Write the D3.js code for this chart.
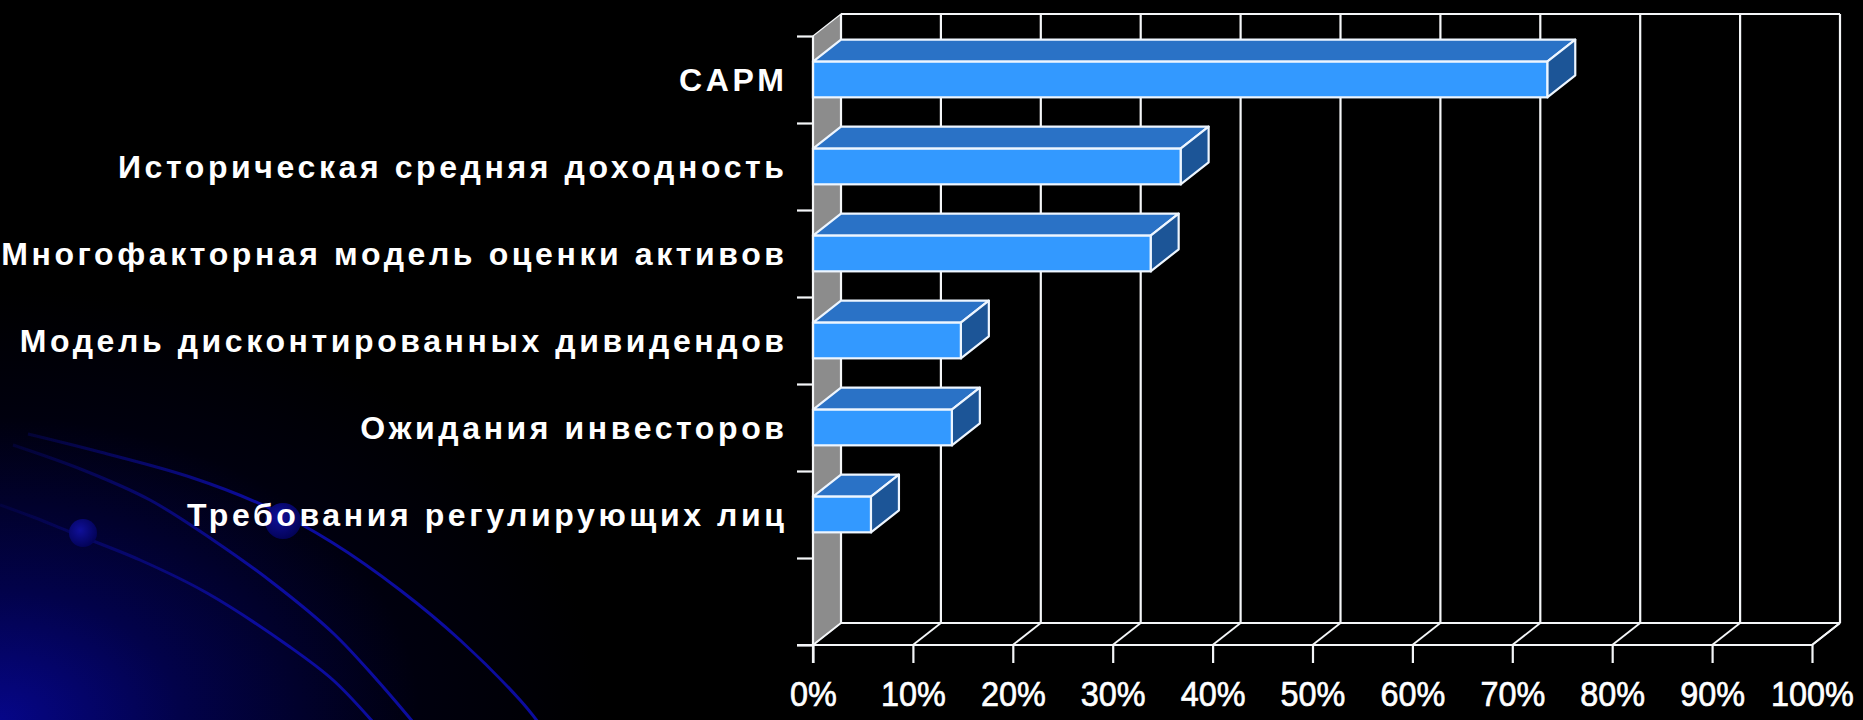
<!DOCTYPE html>
<html>
<head>
<meta charset="utf-8">
<script src="https://cdn.jsdelivr.net/npm/d3@7"></script>
<style>
  html, body { margin: 0; padding: 0; background: #000; }
  svg { display: block; }
</style>
</head>
<body>
<svg id="chart" width="1863" height="720"></svg>
<script>
// Cost-of-equity methods and the share of respondents using each
const categories = [
  "CAPM",
  "Историческая средняя доходность",
  "Многофакторная модель оценки активов",
  "Модель дисконтированных дивидендов",
  "Ожидания инвесторов",
  "Требования регулирующих лиц"
];
const shares = [73.5, 36.8, 33.8, 14.8, 13.9, 5.8];
const xTicks = [0, 10, 20, 30, 40, 50, 60, 70, 80, 90, 100];
const slotCount = 7; // six rows plus an empty row at the bottom

const svg = d3.select("#chart");
const W = 1863, H = 720;

// ---------- slide background ----------
const defs = svg.append("defs");
const bg = defs.append("radialGradient").attr("id", "bgGlow")
  .attr("gradientUnits", "userSpaceOnUse")
  .attr("cx", 0).attr("cy", H).attr("r", 600)
  .attr("gradientTransform", `translate(0,${H}) scale(1,0.72) translate(0,${-H})`);
bg.append("stop").attr("offset", 0).attr("stop-color", "#060688");
bg.append("stop").attr("offset", 0.3).attr("stop-color", "#02024a");
bg.append("stop").attr("offset", 0.7).attr("stop-color", "#00000e");
bg.append("stop").attr("offset", 1).attr("stop-color", "#000000");

svg.append("rect").attr("width", W).attr("height", H).attr("fill", "#000");
svg.append("rect").attr("width", W).attr("height", H).attr("fill", "url(#bgGlow)");

const arcFade = defs.append("linearGradient").attr("id", "arcFade")
  .attr("gradientUnits", "userSpaceOnUse")
  .attr("x1", 0).attr("y1", 0).attr("x2", 260).attr("y2", 0);
arcFade.append("stop").attr("offset", 0).attr("stop-color", "#0a0a8a").attr("stop-opacity", 0.2);
arcFade.append("stop").attr("offset", 1).attr("stop-color", "#0c0c9e").attr("stop-opacity", 1);

const orbitPaths = [
  [[28, 434], [100, 452], [190, 477], [267, 507], [333, 543], [400, 590], [460, 640], [520, 700], [538, 722]],
  [[13, 445], [83, 470], [150, 500], [213, 540], [273, 583], [333, 633], [377, 680], [413, 722]],
  [[0, 505], [33, 517], [70, 532], [140, 560], [207, 593], [290, 647], [333, 680], [373, 722]]
];
const orbitLine = d3.line().curve(d3.curveCatmullRom.alpha(0.5));
svg.append("g").selectAll("path").data(orbitPaths).join("path")
  .attr("d", orbitLine)
  .attr("fill", "none")
  .attr("stroke", "url(#arcFade)")
  .attr("stroke-width", 3);

const planet = defs.append("radialGradient").attr("id", "planet")
  .attr("cx", 0.4).attr("cy", 0.4).attr("r", 0.6);
planet.append("stop").attr("offset", 0).attr("stop-color", "#10109a");
planet.append("stop").attr("offset", 1).attr("stop-color", "#03035a");
svg.append("g").selectAll("circle").data([[83, 533, 14], [283, 521, 18]]).join("circle")
  .attr("cx", d => d[0]).attr("cy", d => d[1]).attr("r", d => d[2])
  .attr("fill", "url(#planet)");

// ---------- 3D chart frame ----------
const depthX = 28, depthY = 22;          // oblique offset of the back plane
const frontTop = 36, frontBottom = 645;

const x = d3.scaleLinear().domain([0, 100]).range([813, 1812]);
const y = d3.scaleBand().domain(d3.range(slotCount)).range([frontTop, frontBottom]).padding(0);
const rowEdge = d3.scaleLinear().domain([0, slotCount]).range([frontTop, frontBottom]);

const line = "#f4f6f8";
const frame = svg.append("g");

// grey side wall
frame.append("path")
  .attr("d", d3.line()([
    [x(0), frontTop], [x(0) + depthX, frontTop - depthY],
    [x(0) + depthX, frontBottom - depthY], [x(0), frontBottom]
  ]) + "Z")
  .attr("fill", "#8c8c8c")
  .attr("stroke", line).attr("stroke-width", 1.2);

// back wall outline and vertical gridlines
const backTop = frontTop - depthY, backBottom = frontBottom - depthY;
frame.append("line")
  .attr("x1", x(0) + depthX).attr("x2", x(100) + depthX)
  .attr("y1", backTop).attr("y2", backTop)
  .attr("stroke", line).attr("stroke-width", 2.2);
frame.selectAll("line.grid").data(xTicks).join("line").attr("class", "grid")
  .attr("x1", d => x(d) + depthX).attr("x2", d => x(d) + depthX)
  .attr("y1", backTop).attr("y2", backBottom)
  .attr("stroke", line).attr("stroke-width", 2.2);

// floor
frame.append("line")
  .attr("x1", x(0) + depthX).attr("x2", x(100) + depthX)
  .attr("y1", backBottom).attr("y2", backBottom)
  .attr("stroke", line).attr("stroke-width", 2.2);
frame.selectAll("line.floor").data(xTicks).join("line").attr("class", "floor")
  .attr("x1", d => x(d) + depthX).attr("y1", backBottom)
  .attr("x2", d => x(d)).attr("y2", frontBottom)
  .attr("stroke", line).attr("stroke-width", 1.8);

// ---------- bars ----------
const barH = y.bandwidth() * 0.41;
const bars = svg.append("g").selectAll("g.bar")
  .data(categories.map((c, i) => ({ c, v: shares[i], i })))
  .join("g").attr("class", "bar");

const barTop = d => y(d.i) + y.bandwidth() / 2 - barH / 2;
const barLine = "#eef6ff";

// top face
bars.append("path")
  .attr("d", d => {
    const t = barTop(d), x0 = x(0), x1 = x(d.v);
    return d3.line()([[x0, t], [x0 + depthX, t - depthY], [x1 + depthX, t - depthY], [x1, t]]) + "Z";
  })
  .attr("fill", "#2a72c6").attr("stroke", barLine).attr("stroke-width", 2.2)
  .attr("stroke-linejoin", "round");
// side face
bars.append("path")
  .attr("d", d => {
    const t = barTop(d), x1 = x(d.v);
    return d3.line()([[x1, t], [x1 + depthX, t - depthY], [x1 + depthX, t - depthY + barH], [x1, t + barH]]) + "Z";
  })
  .attr("fill", "#1c5597").attr("stroke", barLine).attr("stroke-width", 2.2)
  .attr("stroke-linejoin", "round");
// front face
bars.append("rect")
  .attr("x", x(0))
  .attr("y", barTop)
  .attr("width", d => x(d.v) - x(0))
  .attr("height", barH)
  .attr("fill", "#3399ff").attr("stroke", barLine).attr("stroke-width", 2.2);

// ---------- axes ----------
const xAxis = svg.append("g")
  .attr("transform", `translate(0,${frontBottom})`)
  .call(d3.axisBottom(x).tickValues(xTicks).tickSize(18).tickFormat(d => d + "%"));
xAxis.select(".domain").remove();
xAxis.append("line")
  .attr("x1", 797).attr("x2", x(100)).attr("y1", 0).attr("y2", 0)
  .attr("stroke", line).attr("stroke-width", 2.2);
xAxis.append("line")
  .attr("x1", x(100)).attr("y1", 0).attr("x2", x(100) + depthX).attr("y2", -depthY)
  .attr("stroke", line).attr("stroke-width", 1.8);
xAxis.selectAll(".tick line").attr("stroke", line).attr("stroke-width", 2.2);
xAxis.selectAll(".tick text")
  .attr("y", 61).attr("dy", 0)
  .attr("fill", "#ffffff")
  .attr("stroke", "#ffffff").attr("stroke-width", 0.7)
  .attr("transform", "scale(0.9,1)")
  .style("font-family", "'Liberation Sans', Arial, sans-serif")
  .style("font-size", "36px");

const yAxis = svg.append("g")
  .attr("transform", `translate(${x(0)},0)`)
  .call(d3.axisLeft(rowEdge).tickValues(d3.range(slotCount + 1)).tickSize(16).tickFormat(""));
yAxis.select(".domain").remove();
yAxis.append("line")
  .attr("x1", 0).attr("x2", 0).attr("y1", frontTop).attr("y2", frontBottom + 18)
  .attr("stroke", line).attr("stroke-width", 2.2);
yAxis.selectAll(".tick line").attr("stroke", line).attr("stroke-width", 2.2);

// category labels
svg.append("g").selectAll("text").data(categories).join("text")
  .attr("x", 787.6)
  .attr("y", (d, i) => y(i) + y.bandwidth() / 2)
  .attr("dy", "0.36em")
  .attr("text-anchor", "end")
  .attr("fill", "#ffffff")
  .style("font-family", "'Liberation Sans', Arial, sans-serif")
  .style("font-weight", "bold")
  .style("font-size", "32px")
  .style("letter-spacing", "3.6px")
  .text(d => d);
</script>
</body>
</html>
